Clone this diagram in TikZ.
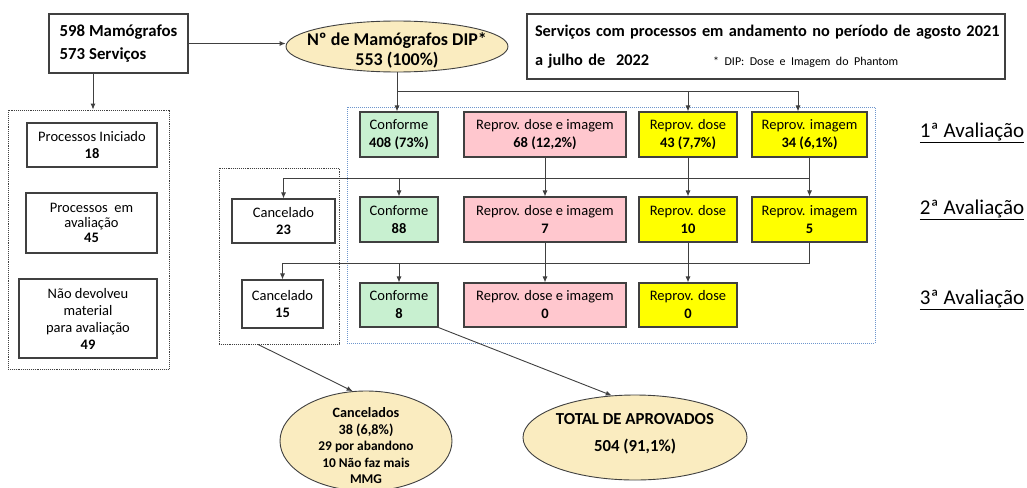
\documentclass[tikz,border=0pt]{standalone}
\usepackage{fontspec}
\setmainfont{Carlito}
\usetikzlibrary{shapes.geometric,arrows.meta}
\newcommand\fsz[2]{\fontsize{#1}{#2}\selectfont}
\definecolor{cgreen}{RGB}{200,240,208}
\definecolor{cpink}{RGB}{255,199,206}
\definecolor{cyell}{RGB}{255,255,0}
\definecolor{cbeige}{RGB}{250,236,192}
\definecolor{cline}{RGB}{64,64,64}
\definecolor{cblue}{RGB}{110,150,205}
\begin{document}
\begin{tikzpicture}[x=1pt,y=-1pt,
 box/.style={draw=cline, line width=1.1pt, rectangle, inner sep=1pt, align=center, font=\fsz{14.5}{18}},
 gbox/.style={box, fill=cgreen, minimum width=78},
 pbox/.style={box, fill=cpink, minimum width=162},
 dbox/.style={box, fill=cyell, minimum width=98},
 ibox/.style={box, fill=cyell, minimum width=115},
 ell/.style={draw=cline, line width=0.9pt, ellipse, fill=cbeige, inner sep=0pt},
 arr/.style={draw=cline, line width=0.9pt, -{Latex[length=6pt,width=5pt]}},
 conn/.style={draw=cline, line width=0.9pt},
 dotbox/.style={draw=black!75, densely dotted, line width=0.9pt, rectangle, inner sep=0pt},
 bluebox/.style={draw=cblue, densely dotted, line width=1pt, rectangle, inner sep=0pt},
 lab/.style={font=\fsz{21}{24}, inner sep=0pt}
]
\useasboundingbox (0,0) rectangle (1027,487);
\fill[white] (0,0) rectangle (1027,487);

% containers
\node[dotbox, minimum width=161, minimum height=259] (lb) at (88.5,239.5) {};
\node[dotbox, minimum width=120, minimum height=176] (cb) at (279,256) {};
\node[bluebox, minimum width=528, minimum height=236] (bb) at (611,225) {};

% top
\node[box, align=left, font=\bfseries\fsz{16.8}{23}, minimum width=139, minimum height=59] (top) at (118.5,43.5) {598 Mamógrafos\\573 Serviços};
\node[ell, minimum width=222, minimum height=51] (dip) at (397,46.5) {};
\node[font=\bfseries\fsz{18}{20}, align=center, inner sep=0pt] (diptxt) at (397,50) {Nº de Mamógrafos DIP*\\553 (100\%)};
\node[box, minimum width=478, minimum height=65, text width=462, align=left, font=\bfseries\fsz{16.3}{29}] (tt) at (766,46.5)
 {\mbox{Serviços com processos em andamento no período de agosto 2021}\\\mbox{a julho de\ \ 2022\hspace{64pt}{\mdseries\fsz{12}{12}* DIP: Dose e Imagem do Phantom}}};

% left column
\node[box, minimum width=130, minimum height=44, font=\fsz{14.5}{17}] (pi) at (92,145) {Processos Iniciado\\\textbf{18}};
\node[box, minimum width=131, minimum height=60, font=\fsz{14.5}{15}] (pa) at (91.5,223) {Processos\ \ em\\avaliação\\\textbf{45}};
\node[box, minimum width=138, minimum height=79, font=\fsz{14.5}{17}] (nd) at (88,318.5) {Não devolveu\\material\\para avaliação\\\textbf{49}};

% cancelled
\node[box, minimum width=103, minimum height=44, font=\fsz{14.5}{16.5}] (can1) at (283.5,221) {Cancelado\\\textbf{23}};
\node[box, minimum width=81, minimum height=48, font=\fsz{14.5}{16.5}] (can2) at (282.5,304) {Cancelado\\\textbf{15}};

% row 1
\node[gbox, minimum height=45] (c1) at (399,134.5) {Conforme\\\textbf{408 (73\%)}};
\node[pbox, minimum height=45] (p1) at (545,134.5) {Reprov. dose e imagem\\\textbf{68 (12,2\%)}};
\node[dbox, minimum height=45] (d1) at (688,134.5) {Reprov. dose\\\textbf{43 (7,7\%)}};
\node[ibox, minimum height=45] (i1) at (809.5,134.5) {Reprov. imagem\\\textbf{34 (6,1\%)}};
% row 2
\node[gbox, minimum height=45] (c2) at (399,219.5) {Conforme\\\textbf{88}};
\node[pbox, minimum height=45] (p2) at (545,219.5) {Reprov. dose e imagem\\\textbf{7}};
\node[dbox, minimum height=45] (d2) at (688,219.5) {Reprov. dose\\\textbf{10}};
\node[ibox, minimum height=45] (i2) at (809.5,219.5) {Reprov. imagem\\\textbf{5}};
% row 3
\node[gbox, minimum height=44] (c3) at (399,305) {Conforme\\\textbf{8}};
\node[pbox, minimum height=44] (p3) at (545,305) {Reprov. dose e imagem\\\textbf{0}};
\node[dbox, minimum height=44] (d3) at (688,305) {Reprov. dose\\\textbf{0}};

% labels
\node[lab] (l1) at (972,133) {\underline{1ª Avaliação}};
\node[lab] (l2) at (972,210) {\underline{2ª Avaliação}};
\node[lab] (l3) at (972,300) {\underline{3ª Avaliação}};

% bottom ellipses
\node[ell, minimum width=172, minimum height=100] (ce) at (366,441) {};
\node[font=\bfseries\fsz{13.4}{16.5}, align=center, inner sep=0pt] (cetxt) at (366,446)
 {{\fsz{14.2}{16.5}Cancelados}\\{\fsz{14.2}{16.5}38 (6,8\%)}\\29 por abandono\\10 Não faz mais\\MMG};
\node[ell, minimum width=224, minimum height=85] (te) at (635,437.5) {};
\node[font=\bfseries\fsz{16.8}{27}, align=center, inner sep=0pt] (tetxt) at (635,434) {TOTAL DE APROVADOS\\504 (91,1\%)};

% connectors
\draw[arr] (top.east) -- (top.east -| dip.west);
\draw[arr] ([xshift=-25.5pt]top.south) -- ([xshift=-25.5pt]top.south |- lb.north);
\draw[arr] (dip.south) -- (dip.south |- c1.north);
\coordinate (j1) at (397,91);
\coordinate (j2) at (798,91);
\draw[conn] (j1) -- (j2);
\draw[arr] (j1 -| d1.north) -- (d1.north);
\draw[arr] (j2) -- (j2 |- i1.north);

\draw[arr] (p1.south) -- (p2.north);
\draw[arr] (d1.south) -- (d2.north);
\draw[arr] (i1.south) -- (i2.north);
\coordinate (k1) at (809.5,178);
\coordinate (k0) at (283.5,178);
\draw[arr] (k1) -- (k0) -- (can1.north);
\draw[arr] (k1 -| c2.north) -- (c2.north);

\draw[arr] (p2.south) -- (p3.north);
\draw[arr] (d2.south) -- (d3.north);
\coordinate (m1) at (809.5,263);
\coordinate (m0) at (282.5,263);
\draw[arr] (i2.south) -- (m1) -- (m0) -- (can2.north);
\draw[arr] (m1 -| c3.north) -- (c3.north);

\draw[arr] ([xshift=-21pt]cb.south) -- (ce.105);
\draw[arr] (c3.south east) -- (te.119);
\end{tikzpicture}
\end{document}
